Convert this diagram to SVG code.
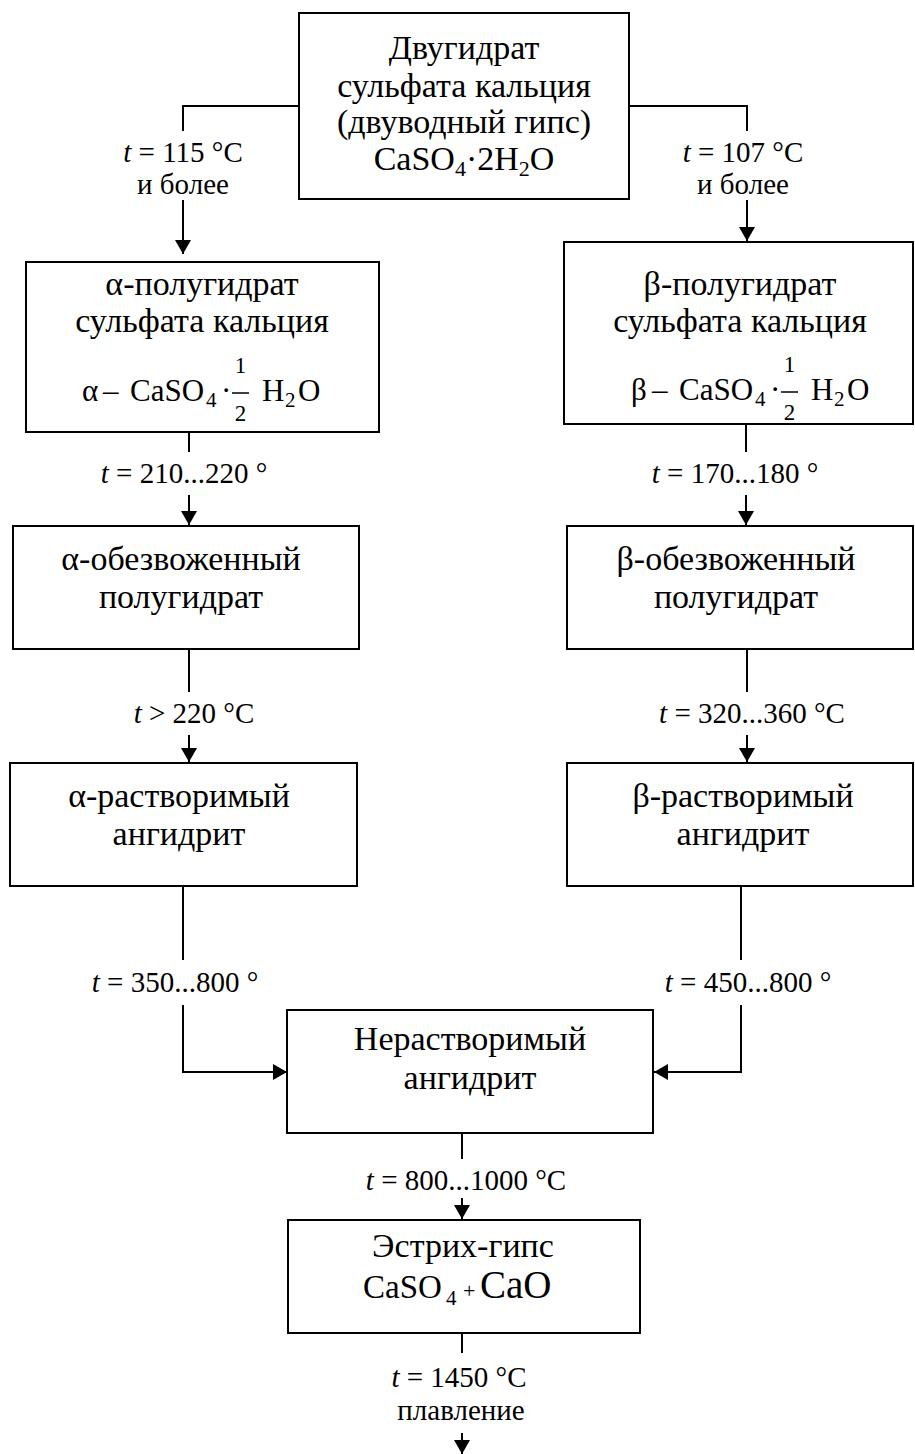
<svg xmlns="http://www.w3.org/2000/svg" width="915" height="1454" viewBox="0 0 915 1454">
<defs>
<style>
text{font-family:'Liberation Serif','Times New Roman',serif;fill:#000}
.box{fill:#fff;stroke:#000;stroke-width:2}
.c{fill:none;stroke:#000;stroke-width:2}
.t{font-size:34px;text-anchor:middle}
.l{font-size:29px;text-anchor:middle}
.f{font-size:31px}
.s{font-size:21px}
.d{font-size:23px;text-anchor:middle}
.i{font-style:italic}
</style>
<marker id="ah" markerUnits="userSpaceOnUse" markerWidth="16" markerHeight="16" refX="14" refY="8" orient="auto">
<path d="M0,0 L14,8 L0,16 Z" fill="#000"/>
</marker>
<g id="frac">
<text class="f" x="0" y="0">CaSO</text>
<text class="s" x="76" y="6">4</text>
<text class="f" x="91" y="0">·</text>
<line x1="102" y1="-8" x2="119" y2="-8" stroke="#000" stroke-width="1.5"/>
<text class="d" x="110.5" y="-28">1</text>
<text class="d" x="110.5" y="20">2</text>
<text class="f" x="132" y="0">H</text>
<text class="s" x="155" y="6">2</text>
<text class="f" x="168" y="0">O</text>
</g>
</defs>
<rect width="915" height="1454" fill="#fff"/>

<g id="connectors">
<path class="c" d="M299,106 H183 V131"/>
<path class="c" d="M183,200 V254" marker-end="url(#ah)"/>
<path class="c" d="M629,106 H747 V131"/>
<path class="c" d="M747,200 V241" marker-end="url(#ah)"/>
<path class="c" d="M189,412 V452"/>
<path class="c" d="M189,495 V525" marker-end="url(#ah)"/>
<path class="c" d="M746,424 V452"/>
<path class="c" d="M746,495 V525" marker-end="url(#ah)"/>
<path class="c" d="M189,650 V692"/>
<path class="c" d="M189,735 V762" marker-end="url(#ah)"/>
<path class="c" d="M747,650 V692"/>
<path class="c" d="M747,735 V762" marker-end="url(#ah)"/>
<path class="c" d="M183,886 V960"/>
<path class="c" d="M183,1005 V1072 H287" marker-end="url(#ah)"/>
<path class="c" d="M741,886 V960"/>
<path class="c" d="M741,1005 V1072 H654" marker-end="url(#ah)"/>
<path class="c" d="M462,1133 V1159"/>
<path class="c" d="M462,1198 V1219" marker-end="url(#ah)"/>
<path class="c" d="M462,1333 V1353"/>
<path class="c" d="M462,1433 V1454" marker-end="url(#ah)"/>
</g>

<g id="labels">
<text class="l" x="183" y="162"><tspan class="i">t</tspan> = 115 °C</text>
<text class="l" x="183" y="194">и более</text>
<text class="l" x="743" y="162"><tspan class="i">t</tspan> = 107 °C</text>
<text class="l" x="743" y="194">и более</text>
<text class="l" x="184" y="483"><tspan class="i">t</tspan> = 210...220 °</text>
<text class="l" x="735" y="483"><tspan class="i">t</tspan> = 170...180 °</text>
<text class="l" x="194" y="723"><tspan class="i">t</tspan> &gt; 220 °C</text>
<text class="l" x="752" y="723"><tspan class="i">t</tspan> = 320...360 °C</text>
<text class="l" x="175" y="992"><tspan class="i">t</tspan> = 350...800 °</text>
<text class="l" x="748" y="992"><tspan class="i">t</tspan> = 450...800 °</text>
<text class="l" x="466" y="1190"><tspan class="i">t</tspan> = 800...1000 °C</text>
<text class="l" x="459" y="1387"><tspan class="i">t</tspan> = 1450 °C</text>
<text class="l" x="461" y="1420">плавление</text>
</g>

<g id="n-dihydrate">
<rect class="box" x="299" y="13" width="330" height="186"/>
<text class="t" x="464" y="59">Двугидрат</text>
<text class="t" x="464" y="97">сульфата кальция</text>
<text class="t" x="464" y="133">(двуводный гипс)</text>
<text class="t" x="464" y="170">CaSO<tspan font-size="22" dy="6">4</tspan><tspan dy="-6">·2H</tspan><tspan font-size="22" dy="6">2</tspan><tspan dy="-6">O</tspan></text>
</g>

<g id="n-alpha-hemihydrate">
<rect class="box" x="26" y="262" width="353" height="170"/>
<text class="t" x="202" y="295">α-полугидрат</text>
<text class="t" x="202" y="332">сульфата кальция</text>
<text class="f" x="82" y="401">α</text>
<text class="f" x="103" y="401">–</text>
<use href="#frac" x="130" y="401"/>
</g>

<g id="n-beta-hemihydrate">
<rect class="box" x="564" y="242" width="349" height="182"/>
<text class="t" x="740" y="295">β-полугидрат</text>
<text class="t" x="740" y="332">сульфата кальция</text>
<text class="f" x="631" y="400">β</text>
<text class="f" x="652" y="400">–</text>
<use href="#frac" x="679" y="400"/>
</g>

<g id="n-alpha-dehydrated">
<rect class="box" x="13" y="526" width="346" height="123"/>
<text class="t" x="181" y="570">α-обезвоженный</text>
<text class="t" x="181" y="608">полугидрат</text>
</g>

<g id="n-beta-dehydrated">
<rect class="box" x="567" y="526" width="346" height="123"/>
<text class="t" x="736" y="570">β-обезвоженный</text>
<text class="t" x="736" y="608">полугидрат</text>
</g>

<g id="n-alpha-soluble">
<rect class="box" x="10" y="763" width="347" height="123"/>
<text class="t" x="179" y="807">α-растворимый</text>
<text class="t" x="179" y="845">ангидрит</text>
</g>

<g id="n-beta-soluble">
<rect class="box" x="567" y="763" width="346" height="123"/>
<text class="t" x="743" y="807">β-растворимый</text>
<text class="t" x="743" y="845">ангидрит</text>
</g>

<g id="n-insoluble">
<rect class="box" x="287" y="1010" width="366" height="123"/>
<text class="t" x="470" y="1050">Нерастворимый</text>
<text class="t" x="470" y="1089">ангидрит</text>
</g>

<g id="n-estrich">
<rect class="box" x="288" y="1220" width="352" height="113"/>
<text class="t" x="463" y="1257">Эстрих-гипс</text>
<text x="363" y="1298" font-size="33">CaSO</text>
<text class="s" x="446" y="1305">4</text>
<text x="463" y="1298" font-size="22">+</text>
<text x="480" y="1298" font-size="39">CaO</text>
</g>
</svg>
